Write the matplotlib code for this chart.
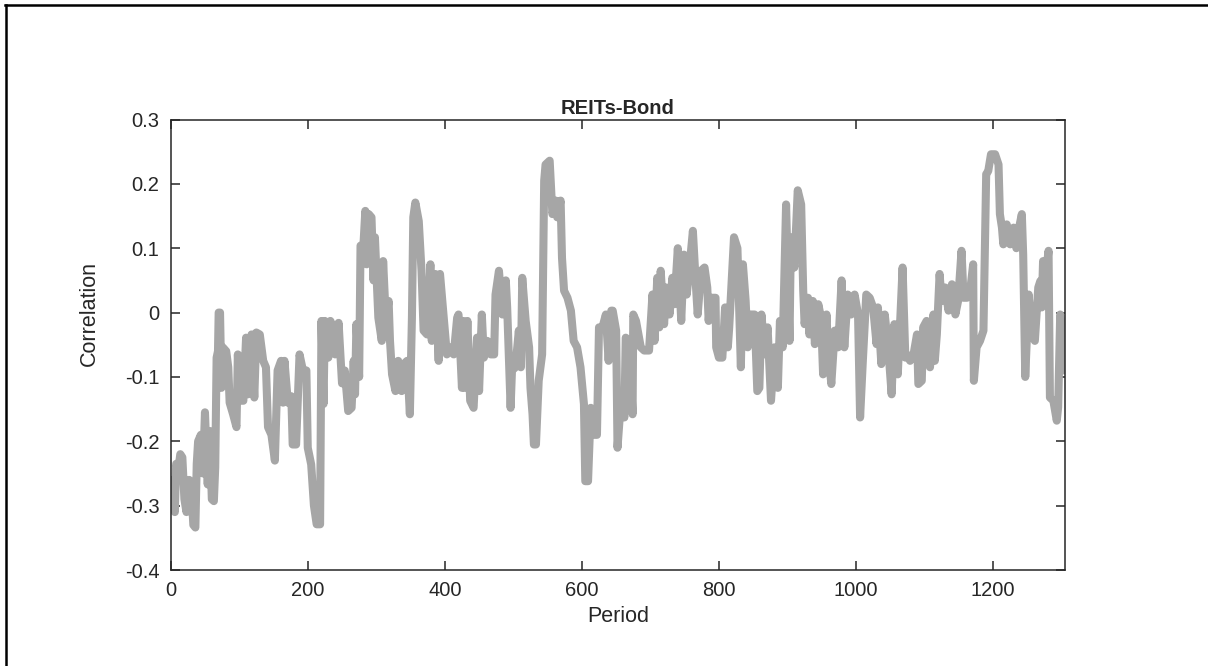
import matplotlib
matplotlib.use("Agg")
import matplotlib.pyplot as plt
from matplotlib.lines import Line2D

period = [0, 3, 6, 8, 11, 14, 17, 20, 23, 27, 30, 33, 36, 38, 40, 44, 47, 50, 54, 57, 60, 63, 65, 67, 69, 70, 72, 74, 76, 81, 84, 86, 91, 96, 98, 101, 106, 110, 113, 118, 122, 125, 130, 135, 139, 142, 147, 152, 156, 161, 164, 166, 171, 176, 178, 183, 188, 193, 198, 200, 205, 209, 213, 218, 220, 223, 225, 230, 233, 237, 240, 245, 250, 254, 259, 264, 267, 269, 271, 275, 277, 281, 284, 286, 289, 293, 296, 298, 303, 308, 310, 314, 318, 320, 323, 328, 332, 337, 340, 345, 349, 352, 354, 357, 362, 366, 369, 374, 379, 381, 386, 391, 393, 398, 403, 408, 413, 418, 420, 425, 427, 429, 433, 435, 437, 442, 447, 450, 454, 457, 462, 467, 472, 474, 479, 484, 489, 491, 496, 498, 503, 508, 511, 513, 518, 523, 525, 528, 530, 533, 537, 542, 545, 547, 553, 557, 562, 564, 569, 571, 574, 579, 584, 588, 593, 598, 603, 605, 609, 613, 618, 622, 625, 630, 635, 639, 643, 645, 650, 652, 657, 662, 664, 669, 674, 675, 679, 686, 691, 698, 703, 706, 710, 713, 715, 720, 723, 728, 732, 735, 740, 745, 749, 753, 757, 762, 766, 769, 774, 779, 783, 785, 788, 795, 796, 800, 805, 809, 813, 815, 822, 827, 832, 835, 839, 842, 844, 852, 856, 859, 862, 867, 871, 876, 881, 886, 889, 893, 898, 903, 905, 910, 915, 920, 923, 925, 930, 932, 937, 940, 945, 949, 952, 957, 959, 964, 969, 974, 979, 983, 988, 993, 998, 1003, 1006, 1010, 1015, 1020, 1025, 1030, 1032, 1037, 1042, 1047, 1052, 1056, 1061, 1068, 1072, 1074, 1079, 1084, 1089, 1091, 1096, 1098, 1103, 1108, 1113, 1115, 1118, 1122, 1125, 1130, 1135, 1140, 1145, 1149, 1154, 1157, 1162, 1166, 1171, 1172, 1176, 1181, 1186, 1190, 1193, 1197, 1203, 1208, 1210, 1213, 1215, 1220, 1225, 1230, 1234, 1237, 1242, 1244, 1247, 1252, 1256, 1261, 1266, 1269, 1271, 1273, 1277, 1281, 1283, 1288, 1293, 1295, 1298, 1300, 1303, 1305]

correlation = [-0.26, -0.275, -0.31, -0.235, -0.245, -0.22, -0.225, -0.29, -0.31, -0.26, -0.27, -0.33, -0.334, -0.235, -0.2, -0.19, -0.25, -0.155, -0.267, -0.184, -0.29, -0.293, -0.24, -0.07, -0.06, 0.0, 0.0, -0.117, -0.054, -0.06, -0.085, -0.14, -0.158, -0.178, -0.065, -0.137, -0.137, -0.039, -0.127, -0.034, -0.132, -0.031, -0.034, -0.075, -0.085, -0.178, -0.19, -0.23, -0.09, -0.075, -0.14, -0.075, -0.14, -0.13, -0.205, -0.205, -0.065, -0.09, -0.09, -0.21, -0.236, -0.30, -0.329, -0.329, -0.013, -0.142, -0.013, -0.07, -0.013, -0.023, -0.065, -0.016, -0.11, -0.09, -0.153, -0.148, -0.075, -0.127, -0.018, -0.1, 0.104, 0.1, 0.158, 0.075, 0.153, 0.148, 0.05, 0.117, -0.008, -0.044, 0.08, -0.013, 0.018, -0.044, -0.096, -0.122, -0.075, -0.122, -0.08, -0.075, -0.158, -0.008, 0.148, 0.171, 0.142, 0.065, -0.028, -0.034, 0.075, -0.044, 0.06, -0.075, 0.06, -0.003, -0.065, -0.054, -0.065, -0.008, -0.003, -0.117, -0.013, -0.117, -0.013, -0.075, -0.137, -0.148, -0.039, -0.122, -0.003, -0.07, -0.044, -0.065, -0.065, 0.028, 0.065, -0.003, 0.05, 0.008, -0.148, -0.09, -0.085, -0.028, -0.085, 0.054, -0.013, -0.054, -0.117, -0.158, -0.205, -0.205, -0.106, -0.065, 0.205, 0.23, 0.236, 0.153, 0.174, 0.148, 0.174, 0.085, 0.034, 0.023, 0.003, -0.044, -0.054, -0.085, -0.142, -0.262, -0.262, -0.148, -0.19, -0.19, -0.023, -0.023, -0.003, -0.075, 0.003, 0.003, -0.028, -0.21, -0.137, -0.163, -0.039, -0.044, -0.158, -0.003, -0.013, -0.054, -0.059, -0.059, 0.028, -0.044, 0.054, -0.023, 0.065, -0.018, 0.039, -0.003, 0.054, 0.013, 0.1, -0.013, 0.09, 0.028, 0.07, 0.127, 0.049, -0.003, 0.065, 0.07, 0.039, -0.013, 0.023, 0.023, -0.054, -0.07, -0.07, 0.008, -0.054, -0.023, 0.117, 0.1, -0.085, 0.075, 0.018, -0.054, -0.003, -0.003, -0.122, -0.117, -0.003, -0.065, -0.023, -0.137, -0.054, -0.117, -0.013, -0.054, 0.168, -0.044, 0.117, 0.07, 0.19, 0.168, 0.034, -0.018, 0.023, -0.034, 0.018, -0.049, 0.013, -0.008, -0.096, -0.003, -0.054, -0.111, -0.028, -0.054, 0.05, -0.054, 0.028, -0.003, 0.028, -0.003, -0.163, -0.075, 0.028, 0.023, 0.008, -0.049, 0.008, -0.08, -0.003, -0.054, -0.127, -0.018, -0.096, 0.07, -0.07, -0.065, -0.075, -0.065, -0.034, -0.111, -0.106, -0.023, -0.013, -0.085, -0.003, -0.075, -0.034, 0.06, 0.018, 0.039, 0.003, 0.044, -0.003, 0.018, 0.096, 0.023, 0.023, 0.028, 0.075, -0.106, -0.054, -0.044, -0.028, 0.215, 0.22, 0.246, 0.246, 0.23, 0.153, 0.132, 0.106, 0.137, 0.106, 0.132, 0.1, 0.127, 0.153, 0.09, -0.1, 0.028, -0.034, -0.044, 0.039, 0.049, 0.008, 0.08, 0.06, 0.096, -0.132, -0.137, -0.168, -0.147, -0.003, -0.018, -0.09, -0.044]

xticks = [0, 200, 400, 600, 800, 1000, 1200]
yticks = [-0.4, -0.3, -0.2, -0.1, 0, 0.1, 0.2, 0.3]
ytick_labels = ["-0.4", "-0.3", "-0.2", "-0.1", "0", "0.1", "0.2", "0.3"]
title = "REITs-Bond"
xlabel = "Period"
ylabel = "Correlation"

plt.rcParams["font.family"] = ["Liberation Sans", "DejaVu Sans"]
plt.rcParams["axes.unicode_minus"] = False

W, H = 1208, 666
fig = plt.figure(figsize=(W / 100, H / 100), dpi=100)
ax = fig.add_axes([170.7 / W, 1 - 570 / H, (1065 - 170.7) / W, (570 - 119.5) / H])

ax.plot(period, correlation, color="#a6a6a6", linewidth=5.8,
        solid_joinstyle="round", solid_capstyle="round")

ax.set_xlim(0, 1305)
ax.set_ylim(-0.4, 0.3)
ax.set_xticks(xticks)
ax.set_yticks(yticks)
ax.set_yticklabels(ytick_labels)
ax.tick_params(direction="in", length=6.5, width=1.1, colors="#262626",
               labelsize=14.5, top=True, right=True, pad=8)
for s in ax.spines.values():
    s.set_linewidth(1.1)
    s.set_color("#262626")

ax.set_title(title, fontsize=14.5, fontweight="bold", color="#262626", pad=4)
ax.set_xlabel(xlabel, fontsize=15.5, color="#262626", labelpad=4)
ax.set_ylabel(ylabel, fontsize=15.5, color="#262626",
              family=["Liberation Sans Narrow", "Liberation Sans", "DejaVu Sans"])
ax.yaxis.set_label_coords(-0.079, 0.57)

# figure frame: only top and left edges are visible in the reference
fig.add_artist(Line2D([5 / W, 1.0], [1 - 4.5 / H, 1 - 4.5 / H],
                      transform=fig.transFigure, color="black", linewidth=1.8))
fig.add_artist(Line2D([5.5 / W, 5.5 / W], [0.0, 1 - 4.5 / H],
                      transform=fig.transFigure, color="black", linewidth=1.8))

fig.savefig("out.png", dpi=100)
